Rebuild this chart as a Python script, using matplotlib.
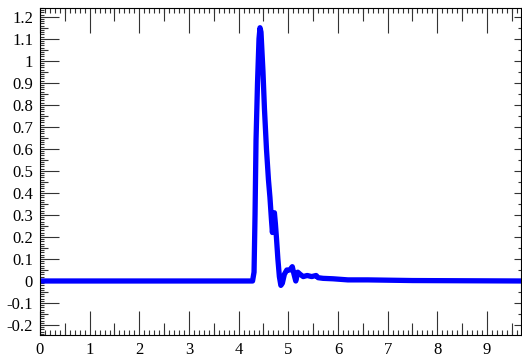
import matplotlib
matplotlib.use('Agg')
import matplotlib.pyplot as plt
from matplotlib.ticker import MultipleLocator, NullFormatter
import numpy as np

plt.rcParams['font.family'] = ['Liberation Serif', 'DejaVu Serif']

# signal trace
t = [0, 4.28, 4.31, 4.33, 4.35, 4.38, 4.41, 4.43, 4.45, 4.47, 4.49, 4.52,
     4.56, 4.60, 4.63, 4.66, 4.68, 4.70, 4.72, 4.74, 4.76, 4.79, 4.82, 4.85,
     4.88, 4.92, 4.97, 5.03, 5.08, 5.11, 5.15, 5.19, 5.24, 5.30, 5.38, 5.47,
     5.56, 5.60, 5.70, 5.90, 6.20, 6.60, 7.50, 9.70]
amp = [0, 0, 0.04, 0.30, 0.64, 0.90, 1.10, 1.15, 1.13, 1.04, 0.95, 0.78,
       0.60, 0.46, 0.38, 0.28, 0.22, 0.28, 0.31, 0.26, 0.20, 0.10, 0.02, -0.02,
       -0.01, 0.03, 0.05, 0.05, 0.065, 0.035, 0.0, 0.04, 0.03, 0.02, 0.025, 0.02,
       0.025, 0.015, 0.012, 0.01, 0.005, 0.005, 0.002, 0]

xlim = (0, 9.68)
ylim = (-0.245, 1.24)

fig = plt.figure(figsize=(5.22, 3.59), dpi=100)
ax = fig.add_axes([0.0766, 0.067, 0.921, 0.911])
ax.plot(t, amp, color='#0000ff', lw=3.8, solid_joinstyle='round')
ax.set_xlim(*xlim)
ax.set_ylim(*ylim)

tc = '#333333'
# bottom / left main ticks
ax.xaxis.set_major_locator(MultipleLocator(1))
ax.xaxis.set_minor_locator(MultipleLocator(0.1))
ax.yaxis.set_major_locator(MultipleLocator(0.1))
ax.yaxis.set_minor_locator(MultipleLocator(0.01))
ax.yaxis.set_major_formatter(plt.FuncFormatter(lambda v, p: '%g' % round(v, 2)))
ax.tick_params(axis='x', which='major', direction='in', length=17, width=0.8,
               color=tc, labelsize=12, pad=5)
ax.tick_params(axis='x', which='minor', direction='in', length=3.5, width=0.8, color=tc)
ax.tick_params(axis='y', which='major', direction='in', length=14, width=0.8,
               color=tc, labelsize=12, pad=5)
ax.tick_params(axis='y', which='minor', direction='in', length=3, width=0.8, color=tc)

# half-unit ticks on bottom and left
bx = ax.secondary_xaxis('bottom')
bx.set_xticks(np.arange(0.5, 10, 1))
bx.xaxis.set_major_formatter(NullFormatter())
bx.tick_params(direction='in', length=9, width=0.8, color=tc)
bx.spines['bottom'].set_visible(False)

ly = ax.secondary_yaxis('left')
ly.set_yticks(np.arange(-0.15, 1.25, 0.1))
ly.yaxis.set_major_formatter(NullFormatter())
ly.tick_params(direction='in', length=6, width=0.8, color=tc)
ly.spines['left'].set_visible(False)

# top ticks
tx = ax.secondary_xaxis('top')
tx.xaxis.set_major_locator(MultipleLocator(1))
tx.xaxis.set_minor_locator(MultipleLocator(0.1))
tx.xaxis.set_major_formatter(NullFormatter())
tx.tick_params(which='major', direction='in', length=18, width=0.8, color=tc)
tx.tick_params(which='minor', direction='in', length=3.5, width=0.8, color=tc)
tx.spines['top'].set_visible(False)

tx2 = ax.secondary_xaxis('top')
tx2.set_xticks(np.arange(0.5, 10, 1))
tx2.xaxis.set_major_formatter(NullFormatter())
tx2.tick_params(direction='in', length=9, width=0.8, color=tc)
tx2.spines['top'].set_visible(False)

# right ticks
ry = ax.secondary_yaxis('right')
ry.yaxis.set_major_locator(MultipleLocator(0.1))
ry.yaxis.set_minor_locator(MultipleLocator(0.05))
ry.yaxis.set_major_formatter(NullFormatter())
ry.tick_params(which='major', direction='in', length=5, width=0.8, color=tc)
ry.tick_params(which='minor', direction='in', length=2, width=0.8, color=tc)
ry.spines['right'].set_visible(False)

for s in ax.spines.values():
    s.set_linewidth(0.8)

fig.savefig('out.png', dpi=100)
